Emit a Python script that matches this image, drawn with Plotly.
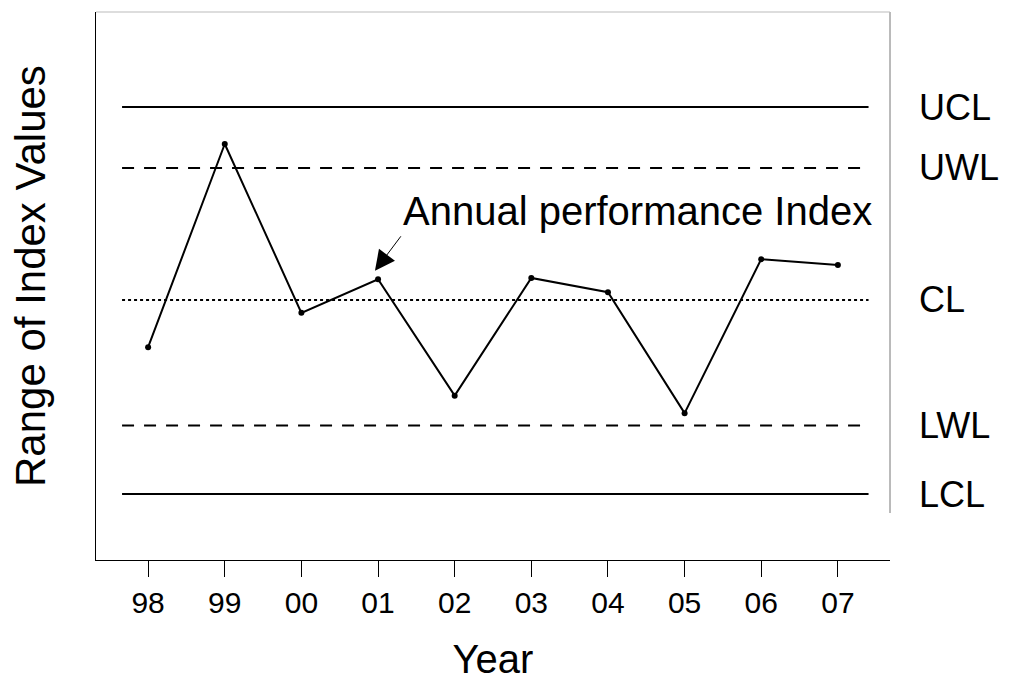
import plotly.graph_objects as go

years = ["98", "99", "00", "01", "02", "03", "04", "05", "06", "07"]
index_values = [-0.73, 2.41, -0.20, 0.32, -1.48, 0.34, 0.12, -1.75, 0.63, 0.54]

limit_names = ["UCL", "UWL", "CL", "LWL", "LCL"]
limit_values = [2.98, 2.04, 0.0, -1.94, -3.0]
limit_dash = ["solid", "12px,10px", "dot", "12px,10px", "solid"]

FONT = "Liberation Sans, Arial, sans-serif"
xpos = list(range(len(years)))

fig = go.Figure()

for name, val, dash in zip(limit_names, limit_values, limit_dash):
    fig.add_trace(go.Scatter(
        x=[-0.34, 9.4], y=[val, val], mode="lines",
        line=dict(color="black", width=2, dash=dash),
        showlegend=False, hoverinfo="skip"))
    fig.add_annotation(x=1.0, xref="paper", xshift=27, y=val, yref="y",
                       text=name, showarrow=False, xanchor="left",
                       font=dict(family=FONT, size=36, color="black"))

fig.add_trace(go.Scatter(
    x=xpos, y=index_values, mode="lines+markers",
    line=dict(color="black", width=2),
    marker=dict(color="black", size=6),
    showlegend=False))

# arrow
fig.add_annotation(x=2.96, y=0.45, xref="x", yref="y", text="",
                   showarrow=True, ax=27, ay=-36, arrowhead=2, arrowsize=4,
                   arrowwidth=1, arrowcolor="black")
fig.add_annotation(x=(638 - 148) / 76.67, y=(300 - 211) / 64.7, xref="x", yref="y",
                   text="Annual performance Index", showarrow=False,
                   font=dict(family=FONT, size=40, color="black"))

# y-axis title
fig.add_annotation(x=0, xref="paper", xshift=-66, xanchor="center",
                   y=(560 - 276) / 548, yref="paper", yanchor="middle",
                   text="Range of Index Values", textangle=-90, showarrow=False,
                   font=dict(family=FONT, size=42, color="black"))

# right and top border
fig.add_shape(type="line", xref="paper", yref="paper", x0=1, x1=1, y0=(560 - 513) / 548, y1=1,
              line=dict(color="#777777", width=1))
fig.add_shape(type="line", xref="paper", yref="paper", x0=0, x1=1, y0=1, y1=1,
              line=dict(color="#bbbbbb", width=1))

fig.update_layout(
    width=1012, height=684,
    margin=dict(l=88, r=130, t=4, b=132),
    plot_bgcolor="white", paper_bgcolor="white",
    font=dict(family=FONT, color="black"),
    xaxis=dict(
        range=[-0.68, 9.68], tickmode="array", tickvals=xpos, ticktext=years,
        showgrid=False, zeroline=False, showline=True, linecolor="black", linewidth=1,
        ticks="outside", ticklen=16, tickcolor="black", tickwidth=1,
        tickfont=dict(family=FONT, size=30, color="black"),
        title=dict(text="Year", font=dict(family=FONT, size=40, color="black"), standoff=26),
    ),
    yaxis=dict(
        range=[-4.02, 4.45], showgrid=False, zeroline=False, showticklabels=False,
        showline=True, linecolor="black", linewidth=1, ticks="",
    ),
)

fig.write_html("out.html")
